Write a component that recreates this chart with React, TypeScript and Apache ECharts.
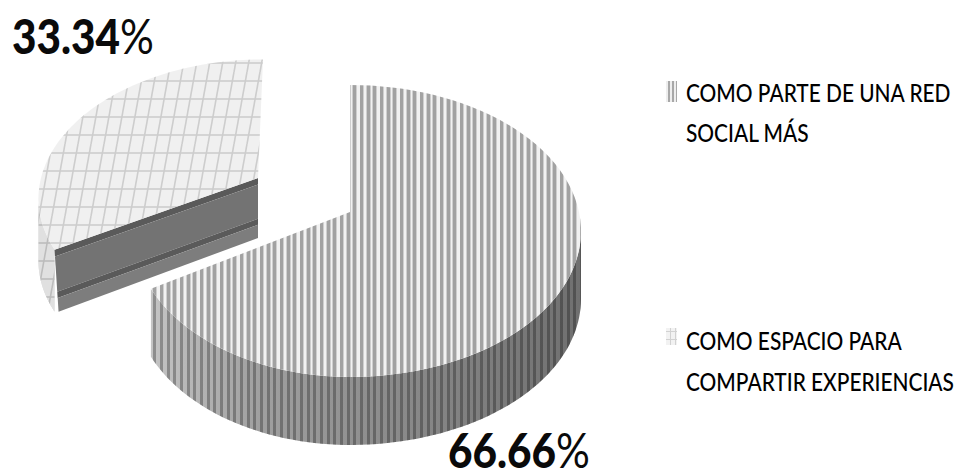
import React, { useEffect, useRef } from "react";
import * as echarts from "echarts";

const categories = ["COMO PARTE DE UNA RED\nSOCIAL MÁS", "COMO ESPACIO PARA\nCOMPARTIR EXPERIENCIAS"];
const values = [66.66, 33.34];

const FONT = 'Lato, "Liberation Sans", sans-serif';

function tile(w: number, h: number, draw: (c: CanvasRenderingContext2D) => void) {
  const cv = document.createElement("canvas");
  cv.width = w;
  cv.height = h;
  draw(cv.getContext("2d") as CanvasRenderingContext2D);
  return { image: cv, repeat: "repeat" } as any;
}

function stripes(bg: string, band: string, bandW: number, edge?: string) {
  // three stripes across a 20px tile
  return tile(20, 2, (c) => {
    if (bg !== "none") {
      c.fillStyle = bg;
      c.fillRect(0, 0, 20, 2);
    }
    for (let i = 0; i < 3; i++) {
      const x = Math.round((i * 20) / 3);
      if (edge) {
        c.fillStyle = edge;
        c.fillRect(x - 1, 0, bandW + 2, 2);
      }
      c.fillStyle = band;
      c.fillRect(x, 0, bandW, 2);
    }
  });
}

function hatch(bg: string, line: string) {
  return tile(13, 72, (c) => {
    c.fillStyle = bg;
    c.fillRect(0, 0, 13, 72);
    c.strokeStyle = line;
    c.lineWidth = 1.6;
    for (let y = 9; y < 72; y += 18) {
      c.beginPath();
      c.moveTo(0, y);
      c.lineTo(13, y);
      c.stroke();
    }
    for (let off = -13; off <= 13; off += 13) {
      c.beginPath();
      c.moveTo(off, 72);
      c.lineTo(off + 13, 0);
      c.stroke();
    }
  });
}

export default function App() {
  const ref = useRef<HTMLDivElement>(null);
  useEffect(() => {
    document.body.style.margin = "0";
    const chart = echarts.init(ref.current as HTMLDivElement, undefined, { renderer: "svg" });
    const total = values.reduce((a, b) => a + b, 0);

    const faceStripes = stripes("#f2f2f2", "#a2a2a2", 3, "#cfcfcf");
    const wallStripes = stripes("none", "rgba(0,0,0,0.28)", 3);
    const faceHatch = hatch("#f0f0f0", "#cdcdcd");
    const wallHatch = hatch("#e0e0e0", "#bcbcbc");
    const swatchA = tile(4, 2, (c) => {
      c.fillStyle = "#eeeeee";
      c.fillRect(0, 0, 4, 2);
      c.fillStyle = "#a8a8a8";
      c.fillRect(0, 0, 2, 2);
    });
    const swatchB = tile(5, 8, (c) => {
      c.fillStyle = "#f2f2f2";
      c.fillRect(0, 0, 5, 8);
      c.fillStyle = "#d2d2d2";
      c.fillRect(0, 3, 5, 1);
      c.fillRect(0, 0, 1, 8);
    });

    const layouts = [
      {
        cx: 350, cy: 212, rxR: 229, rxL: 215, ry: 143.5, k: 0.13, skew: 0, depth: 68,
        face: faceStripes,
        wallOverlay: wallStripes,
        wallFill: {
          type: "linear", x: 150, y: 0, x2: 580, y2: 0, global: true,
          colorStops: [
            { offset: 0, color: "#c4c4c4" },
            { offset: 0.25, color: "#a0a0a0" },
            { offset: 0.55, color: "#8c8c8c" },
            { offset: 1, color: "#707070" },
          ],
        },
        label: { x: 448, y: 449 },
      },
      {
        cx: 258, cy: 178, rxR: 217, rxL: 217, ry: 134, k: 0.13, skew: 5, depth: 62,
        face: faceHatch,
        wallOverlay: wallHatch,
        wallFill: "#dddddd",
        label: { x: 12, y: 35 },
      },
    ];

    const makeRender = (index: number) => (_params: any, api: any) => {
      const value = api.value(0);
      const before = values.slice(0, index).reduce((a, b) => a + b, 0);
      const start = (before / total) * Math.PI * 2;
      const end = ((before + value) / total) * Math.PI * 2;
      const L = layouts[index];
      const pt = (t: number, drop = 0): number[] => {
        const u = Math.sin(t);
        const v = -Math.cos(t);
        const f = 1 / (1 - L.k * v);
        return [L.cx + (u > 0 ? L.rxR : L.rxL) * u * f - L.skew * v, L.cy + L.ry * v * f + drop];
      };
      const arc = (a: number, b: number, drop = 0) => {
        const out: number[][] = [];
        const n = 80;
        for (let i = 0; i <= n; i++) out.push(pt(a + ((b - a) * i) / n, drop));
        return out;
      };
      const children: any[] = [];
      const edge = Math.acos(-L.k);
      const wa = Math.max(start, edge);
      const wb = Math.min(end, Math.PI * 2 - edge);
      if (wb > wa) {
        const wall = [...arc(wa, wb), ...arc(wa, wb, L.depth).reverse()];
        children.push({ type: "polygon", shape: { points: wall }, style: { fill: L.wallFill } });
        children.push({ type: "polygon", shape: { points: wall }, style: { fill: L.wallOverlay } });
      }
      if (index === 1) {
        // cut face of the exploded slice, running from the centre to the rim
        const tip = pt(start);
        const c = [L.cx, L.cy];
        const bands: [number, number, string][] = [
          [0, 0.11, "#5a5a5a"],
          [0.11, 0.68, "#737373"],
          [0.68, 0.78, "#5a5a5a"],
          [0.78, 1, "#7d7d7d"],
        ];
        bands.forEach(([a, b, col]) => {
          children.push({
            type: "polygon",
            shape: {
              points: [
                [c[0], c[1] + a * 60],
                [c[0], c[1] + b * 60],
                [tip[0] + b * 4, tip[1] + b * L.depth],
                [tip[0] + a * 4, tip[1] + a * L.depth],
              ],
            },
            style: { fill: col },
          });
        });
      }
      children.push({
        type: "polygon",
        shape: { points: [[L.cx, L.cy], ...arc(start, end)] },
        style: { fill: L.face },
      });
      children.push({
        type: "text",
        x: L.label.x,
        y: L.label.y,
        scaleX: 0.88,
        style: {
          text: `{b|${value.toFixed(2)}}{n|%}`,
          verticalAlign: "middle",
          rich: {
            b: { font: `900 48px ${FONT}`, fill: "#0a0a0a", lineHeight: 38 },
            n: { font: `400 48px ${FONT}`, fill: "#0a0a0a", lineHeight: 38 },
          },
        },
      });
      return { type: "group", children };
    };

    const legendRows = [
      { swatch: swatchA, sx: 666, sy: 81, sw: 11, sh: 21, tx: 686, ty: 73, lh: 40 },
      { swatch: swatchB, sx: 666, sy: 328, sw: 11, sh: 17, tx: 686, ty: 320, lh: 41 },
    ];

    chart.setOption({
      animation: false,
      backgroundColor: "#ffffff",
      graphic: legendRows.flatMap((r, i) => [
        { type: "rect", shape: { x: r.sx, y: r.sy, width: r.sw, height: r.sh }, style: { fill: r.swatch } },
        {
          type: "text",
          x: r.tx,
          y: r.ty,
          scaleX: 0.87,
          style: {
            text: categories[i],
            font: `500 24px ${FONT}`,
            lineHeight: r.lh,
            fill: "#000000",
            verticalAlign: "top",
          },
        },
      ]),
      series: categories.map((name, i) => ({
        type: "custom",
        name,
        coordinateSystem: "none",
        silent: true,
        renderItem: makeRender(i),
        data: [[values[i]]],
      })),
    });
    return () => chart.dispose();
  }, []);
  return <div ref={ref} style={{ width: 956, height: 470, position: "absolute", left: 0, top: 0 }} />;
}
